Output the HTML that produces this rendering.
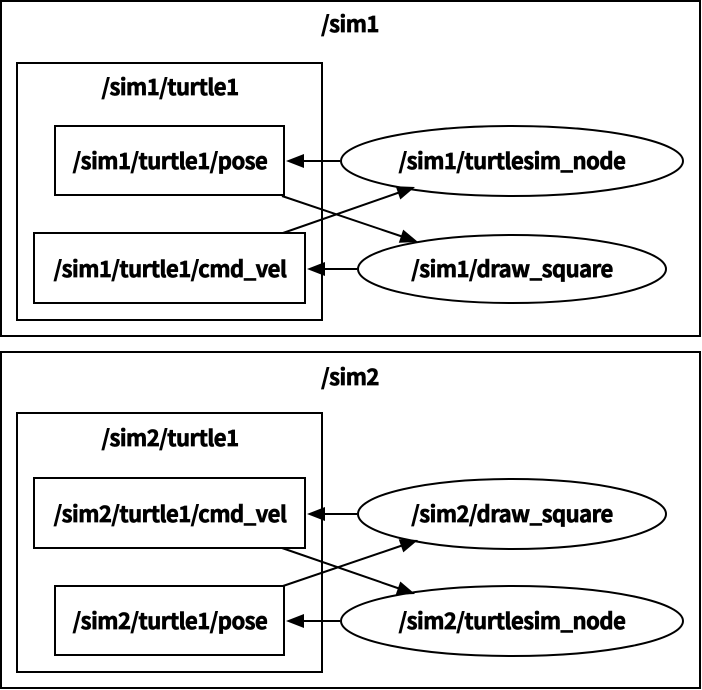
<!DOCTYPE html>
<html><head><meta charset="utf-8"><style>html,body{margin:0;padding:0;background:#fff}svg{display:block}text{font-family:"Noto Sans CJK JP","Liberation Sans",sans-serif;font-weight:bold;font-size:22px;text-anchor:middle;letter-spacing:-0.5px;stroke:#000;stroke-width:0.7px}</style></head><body>
<svg width="702" height="690" viewBox="0 0 702 690" xmlns="http://www.w3.org/2000/svg">
<g fill="none" stroke="#000" stroke-width="2">
<rect x="1" y="1" width="699" height="335"/>
<rect x="17" y="63" width="305" height="257"/>
<rect x="55" y="126" width="229" height="69"/>
<rect x="34" y="233" width="271" height="70"/>
<ellipse cx="512" cy="161" rx="171" ry="35"/>
<ellipse cx="512" cy="269" rx="154" ry="34"/>
<rect x="1" y="352" width="699" height="336"/>
<rect x="17" y="413" width="305" height="259"/>
<rect x="34" y="478" width="271" height="70"/>
<rect x="55" y="586" width="229" height="69"/>
<ellipse cx="512" cy="514" rx="154" ry="35"/>
<ellipse cx="512" cy="621" rx="171" ry="35"/>
</g>
<g stroke="#000" stroke-width="2" fill="none">
<line x1="340" y1="161" x2="303" y2="161"/>
<line x1="357" y1="269" x2="324" y2="269"/>
<line x1="282" y1="196" x2="402" y2="236.5"/>
<line x1="283" y1="233" x2="399" y2="192.5"/>
<line x1="357" y1="514" x2="324" y2="514"/>
<line x1="340" y1="621" x2="303" y2="621"/>
<line x1="282" y1="548" x2="399" y2="588.5"/>
<line x1="283" y1="586" x2="402" y2="545.5"/>
</g>
<g fill="#000">
<polygon points="286,161 304,154 304,168"/>
<polygon points="307,269 325,262 325,276"/>
<polygon points="418,242 398.8,242.8 403.2,229.6"/>
<polygon points="415,187 400.3,199.5 395.7,186.3"/>
<polygon points="307,514 325,507 325,521"/>
<polygon points="286,621 304,614 304,628"/>
<polygon points="415,594 395.7,594.7 400.3,581.5"/>
<polygon points="418,540 403.3,552.4 398.7,539.2"/>
</g>
<g>
<text x="350" y="32">/sim1</text>
<text x="170" y="95">/sim1/turtle1</text>
<text x="170" y="169">/sim1/turtle1/pose</text>
<text x="170" y="277">/sim1/turtle1/cmd_vel</text>
<text x="512" y="169">/sim1/turtlesim_node</text>
<text x="512" y="277">/sim1/draw_square</text>
<text x="350" y="385">/sim2</text>
<text x="170" y="446">/sim2/turtle1</text>
<text x="170" y="522">/sim2/turtle1/cmd_vel</text>
<text x="170" y="629">/sim2/turtle1/pose</text>
<text x="512" y="522">/sim2/draw_square</text>
<text x="512" y="629">/sim2/turtlesim_node</text>
</g>
</svg>
</body></html>
